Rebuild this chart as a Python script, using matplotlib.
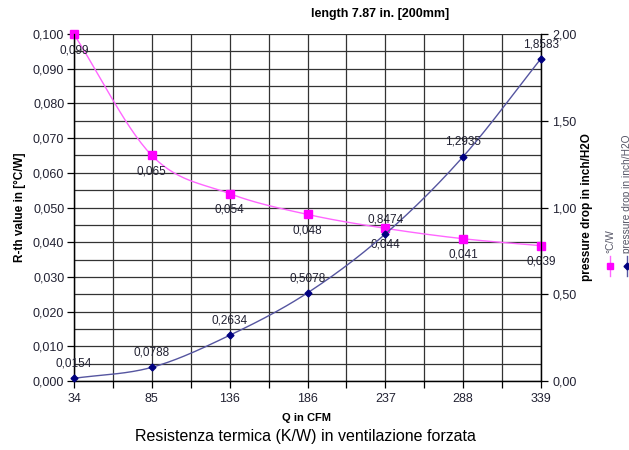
import numpy as np
import matplotlib
matplotlib.use("Agg")
import matplotlib.pyplot as plt
from matplotlib.lines import Line2D
from matplotlib.ticker import FixedLocator, FuncFormatter, MultipleLocator

plt.rcParams['font.family'] = ['Liberation Sans', 'DejaVu Sans']

# ---------------- data ----------------
q_cfm = ["34", "85", "136", "186", "237", "288", "339"]
r_th = [0.0999, 0.065, 0.054, 0.048, 0.044, 0.041, 0.039]
r_th_labels = ["0,099", "0,065", "0,054", "0,048", "0,044", "0,041", "0,039"]
pressure = [0.0154, 0.0788, 0.2634, 0.5078, 0.8474, 1.2935, 1.8583]
pressure_labels = ["0,0154", "0,0788", "0,2634", "0,5078", "0,8474", "1,2935", "1,8583"]

title = "length 7.87 in. [200mm]"
xlabel = "Q in CFM"
ylabel_left = "R-th value in [°C/W]"
ylabel_right = "pressure drop in inch/H2O"
caption = "Resistenza termica (K/W) in ventilazione forzata"
legend_r = "°C/W"
legend_p = "pressure drop in inch/H2O"

c_r_marker = "#FF00FF"
c_r_line = "#FF66FF"
c_p_marker = "#000080"
c_p_line = "#5555A0"
tick_color = "#222233"


def smooth(x, y, n=30):
    """Catmull-Rom spline through the given points (for drawing only)."""
    x = np.asarray(x, float)
    y = np.asarray(y, float)
    px = np.concatenate([[2 * x[0] - x[1]], x, [2 * x[-1] - x[-2]]])
    py = np.concatenate([[2 * y[0] - y[1]], y, [2 * y[-1] - y[-2]]])
    xs, ys = [], []
    t = np.linspace(0, 1, n)
    for i in range(1, len(px) - 2):
        for arr, out in ((px, xs), (py, ys)):
            p0, p1, p2, p3 = arr[i - 1], arr[i], arr[i + 1], arr[i + 2]
            out.extend(0.5 * ((2 * p1) + (-p0 + p2) * t +
                              (2 * p0 - 5 * p1 + 4 * p2 - p3) * t ** 2 +
                              (-p0 + 3 * p1 - 3 * p2 + p3) * t ** 3))
    return np.array(xs), np.array(ys)


fig = plt.figure(figsize=(6.29, 4.5), dpi=100)
ax = fig.add_axes([74 / 629, 1 - 381 / 450, 467 / 629, 347 / 450])
ax2 = ax.twinx()

xpos = np.arange(len(q_cfm))

# grid
ax.set_xlim(0, len(q_cfm) - 1)
ax.set_ylim(0, 0.1)
ax2.set_ylim(0, 2.0)
ax.xaxis.set_major_locator(FixedLocator(xpos))
ax.xaxis.set_minor_locator(FixedLocator(xpos[:-1] + 0.5))
ax.yaxis.set_major_locator(MultipleLocator(0.01))
ax.yaxis.set_minor_locator(MultipleLocator(0.005))
ax.grid(True, which='both', color='#333333', linewidth=0.9)
ax.set_axisbelow(True)

ax.set_xticklabels(q_cfm)
ax.yaxis.set_major_formatter(FuncFormatter(lambda v, p: f"{v:.3f}".replace(".", ",")))
ax2.yaxis.set_major_locator(MultipleLocator(0.5))
ax2.yaxis.set_major_formatter(FuncFormatter(lambda v, p: f"{v:.2f}".replace(".", ",")))

ax.tick_params(axis='x', which='both', direction='out', length=5, width=0.9,
               colors='black', labelcolor=tick_color, labelsize=9, pad=4)
ax.tick_params(axis='y', which='major', direction='out', length=5, width=0.9,
               colors='black', labelcolor=tick_color, labelsize=9, pad=2)
ax.tick_params(axis='y', which='minor', length=0)
ax2.tick_params(axis='y', which='major', direction='out', length=5, width=0.9,
                colors='black', labelcolor=tick_color, labelsize=9, pad=3)
for a in (ax, ax2):
    for s in a.spines.values():
        s.set_color('black')
        s.set_linewidth(0.9)
    a.spines['top'].set_visible(False)

# R-th series
sx, sy = smooth(xpos, r_th)
ax.plot(sx, sy, color=c_r_line, linewidth=1.0, zorder=3)
ax.plot(xpos, r_th, linestyle='none', marker='s', markersize=5.5,
        color=c_r_marker, zorder=4, clip_on=False)
for x, y, lab in zip(xpos, r_th, r_th_labels):
    ax.annotate(lab, (x, y), xytext=(0, -11.5), textcoords='offset points',
                ha='center', va='center', fontsize=8.5, color='#222233', zorder=6,
                annotation_clip=False)

# pressure series
px_, py_ = smooth(xpos, pressure)
ax2.plot(px_, py_, color=c_p_line, linewidth=1.0, zorder=3)
ax2.plot(xpos, pressure, linestyle='none', marker='D', markersize=3.5,
         color=c_p_marker, zorder=4, clip_on=False)
for x, y, lab in zip(xpos, pressure, pressure_labels):
    ax2.annotate(lab, (x, y), xytext=(0, 10.5), textcoords='offset points',
                 ha='center', va='center', fontsize=8.5, color='#222233', zorder=6,
                 annotation_clip=False)

# labels
ax.set_ylabel(ylabel_left, fontsize=8.5, fontweight='bold')
ax.yaxis.set_label_coords(-0.103, 0.5)
ax2.set_ylabel(ylabel_right, fontsize=8.5, fontweight='bold')
ax2.yaxis.set_label_coords(1.0857, 0.5)
fig.text(307 / 629, 1 - 418 / 450, xlabel, fontsize=8, fontweight='bold',
         ha='center', va='center')
fig.text(305 / 629, 1 - 437 / 450, caption, fontsize=11.5, ha='center', va='center')
fig.text(380 / 629, 1 - 14 / 450, title, fontsize=9, fontweight='bold',
         ha='center', va='center')

# rotated legend
for xp, col_l, col_m, mk, ms, lab in ((610, c_r_line, c_r_marker, 's', 5, legend_r),
                                       (627, c_p_line, c_p_marker, 'D', 3.5, legend_p)):
    xf = xp / 629
    fig.add_artist(Line2D([xf, xf], [1 - 276 / 450, 1 - 256 / 450],
                          transform=fig.transFigure, color=col_l, linewidth=1.0))
    fig.add_artist(Line2D([xf], [1 - 266 / 450], transform=fig.transFigure,
                          marker=mk, markersize=ms, color=col_m, linestyle='none'))
    fig.text(xf, 1 - 253 / 450, lab, rotation=90, fontsize=7.3, color='#555566',
             ha='center', va='bottom')

fig.savefig("out.png", dpi=100)
